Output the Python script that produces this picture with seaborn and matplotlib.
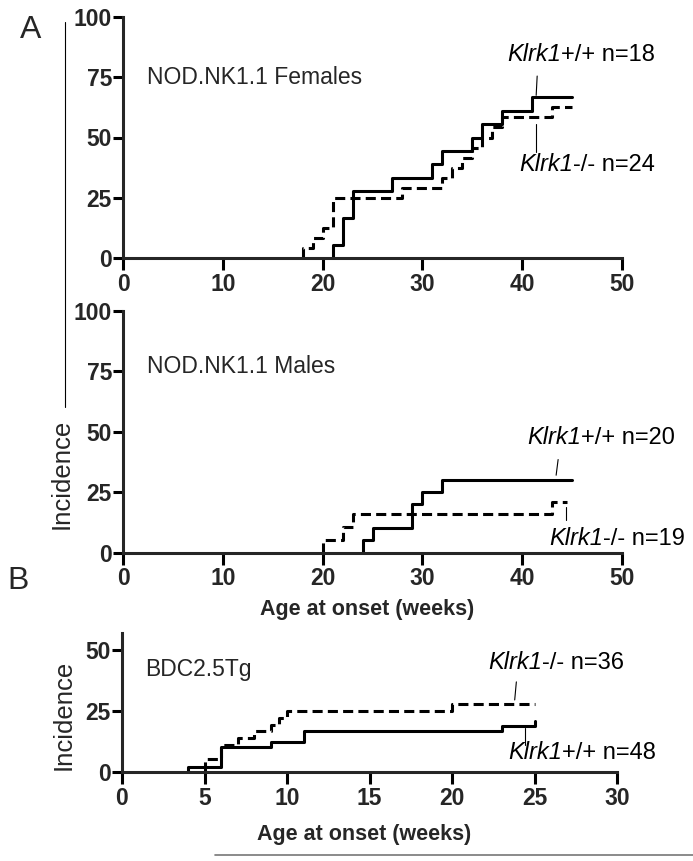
import matplotlib
matplotlib.use("Agg")
import matplotlib.pyplot as plt
import seaborn as sns
import pandas as pd
from matplotlib.offsetbox import TextArea, HPacker, AnnotationBbox
from matplotlib.lines import Line2D

# ---------------- data ----------------
fem_wt_weeks = [21, 22, 23, 27, 31, 32, 35, 36, 38, 41]
fem_wt_inc = [5.6, 16.7, 27.8, 33.3, 38.9, 44.4, 50.0, 55.6, 61.1, 66.7]
fem_wt_end = 45
fem_ko_weeks = [18, 19, 20, 21, 28, 32, 33, 34, 35, 36, 37, 38, 43]
fem_ko_inc = [4.2, 8.3, 12.5, 25.0, 29.2, 33.3, 37.5, 41.7, 45.8, 50.0, 54.2, 58.3, 62.5]
fem_ko_end = 45

male_wt_weeks = [24, 25, 29, 30, 32]
male_wt_inc = [5.0, 10.0, 20.0, 25.0, 30.0]
male_wt_end = 45
male_ko_weeks = [20, 22, 23, 43]
male_ko_inc = [5.3, 10.5, 15.8, 21.1]
male_ko_end = 44.5

bdc_wt_weeks = [4, 6, 9, 11, 23, 25]
bdc_wt_inc = [2.1, 10.4, 12.5, 16.7, 18.8, 20.8]
bdc_wt_end = 25
bdc_ko_weeks = [5, 6, 7, 8, 9, 9.5, 10, 20]
bdc_ko_inc = [5.6, 11.1, 13.9, 16.7, 19.4, 22.2, 25.0, 27.8]
bdc_ko_end = 25

panel_titles = ["NOD.NK1.1 Females", "NOD.NK1.1 Males", "BDC2.5Tg"]
xlabel = "Age at onset (weeks)"
ylabel = "Incidence"
xticks_A = [0, 10, 20, 30, 40, 50]
yticks_A = [0, 25, 50, 75, 100]
xticks_B = [0, 5, 10, 15, 20, 25, 30]
yticks_B = [0, 25, 50]

# ---------------- style ----------------
sns.set_style("ticks")
plt.rcParams["font.family"] = ["Liberation Sans", "DejaVu Sans"]

W, H = 693, 861
fig = plt.figure(figsize=(W / 100, H / 100), dpi=100)

FS = 16.5


def add_ax(left, right, top, bottom):
    return fig.add_axes([left / W, 1 - bottom / H, (right - left) / W, (bottom - top) / H])


def step_frame(weeks, inc, end, geno):
    x = [weeks[0]] + list(weeks) + [end]
    y = [0] + list(inc) + [inc[-1]]
    return pd.DataFrame({"week": x, "inc": y, "geno": geno})


LW = 2.2
DASH = (3.3, 1.7)


def draw(ax, wt, ko, xlim, ylim, xt, yt):
    df = pd.concat([step_frame(*wt, "wt"), step_frame(*ko, "ko")], ignore_index=True)
    sns.lineplot(data=df, x="week", y="inc", style="geno", units="geno",
                 dashes={"wt": "", "ko": DASH}, color="black", lw=LW,
                 estimator=None, sort=False, drawstyle="steps-post",
                 legend=False, ax=ax, clip_on=False)
    ax.set_xlim(*xlim)
    ax.set_ylim(*ylim)
    ax.set_xticks(xt)
    ax.set_yticks(yt)
    ax.set_xlabel("")
    ax.set_ylabel("")
    for s in ["top", "right"]:
        ax.spines[s].set_visible(False)
    for s in ["left", "bottom"]:
        ax.spines[s].set_linewidth(LW)
    ax.tick_params(axis="x", width=LW, length=8.5, pad=2, labelsize=FS, color="black")
    ax.tick_params(axis="y", width=LW, length=7, pad=1, labelsize=FS, color="black")
    for lab in ax.get_xticklabels() + ax.get_yticklabels():
        lab.set_fontweight("bold")
    ax.patch.set_alpha(0)


def label(ax, x, y, gene, rest, ha_box=(0, 0.5)):
    t1 = TextArea(gene, textprops=dict(style="italic", fontsize=FS + 0.5, color="black"))
    t2 = TextArea(rest, textprops=dict(fontsize=FS + 0.5, color="black"))
    box = HPacker(children=[t1, t2], pad=0, sep=0, align="baseline")
    ab = AnnotationBbox(box, (x, y), xycoords="data", frameon=False,
                        box_alignment=ha_box, pad=0, annotation_clip=False)
    ax.add_artist(ab)


def leader(ax, x0, y0, x1, y1):
    ax.add_line(Line2D([x0, x1], [y0, y1], color="black", lw=0.8, clip_on=False))


# ---------------- panel A top ----------------
ax1 = add_ax(123, 622, 17, 258)
draw(ax1, (fem_wt_weeks, fem_wt_inc, fem_wt_end), (fem_ko_weeks, fem_ko_inc, fem_ko_end),
     (0, 50), (0, 100), xticks_A, yticks_A)
ax1.text(2.4, 75, panel_titles[0], fontsize=FS, va="center", ha="left")
label(ax1, 38.5, 84.5, "Klrk1", "+/+ n=18")
leader(ax1, 41.5, 75.5, 41.4, 67.5)
label(ax1, 39.7, 39, "Klrk1", "-/- n=24")
leader(ax1, 41.4, 55.5, 41.4, 44)

# ---------------- panel A bottom ----------------
ax2 = add_ax(123, 622, 311, 552.5)
draw(ax2, (male_wt_weeks, male_wt_inc, male_wt_end), (male_ko_weeks, male_ko_inc, male_ko_end),
     (0, 50), (0, 100), xticks_A, yticks_A)
ax2.text(2.4, 77, panel_titles[1], fontsize=FS, va="center", ha="left")
label(ax2, 40.5, 47.5, "Klrk1", "+/+ n=20")
leader(ax2, 43.6, 38.5, 43.4, 32)
label(ax2, 42.7, 6, "Klrk1", "-/- n=19")
leader(ax2, 44.4, 19, 44.4, 13.5)
ax2.text(0.49, -0.235, xlabel, transform=ax2.transAxes, ha="center", va="center",
         fontsize=15.5, fontweight="bold")

# ---------------- panel B ----------------
ax3 = add_ax(122, 617, 633, 772.3)
draw(ax3, (bdc_wt_weeks, bdc_wt_inc, bdc_wt_end), (bdc_ko_weeks, bdc_ko_inc, bdc_ko_end),
     (0, 30), (0, 57), xticks_B, yticks_B)
ax3.text(1.4, 42, panel_titles[2], fontsize=FS, va="center", ha="left")
label(ax3, 22.2, 44.8, "Klrk1", "-/- n=36")
leader(ax3, 23.9, 37, 23.8, 29.6)
label(ax3, 23.4, 7.9, "Klrk1", "+/+ n=48")
leader(ax3, 24.4, 18.1, 24.4, 11.2)
ax3.text(0.49, -0.45, xlabel, transform=ax3.transAxes, ha="center", va="center",
         fontsize=15.5, fontweight="bold")

# ---------------- figure-level annotations ----------------
fig.text(31 / W, 1 - 30 / H, "A", fontsize=23, ha="center", va="center")
fig.text(18 / W, 1 - 581 / H, "B", fontsize=23, ha="center", va="center")
fig.text(62 / W, 1 - 474 / H, ylabel, fontsize=18.5, rotation=90, ha="center", va="center")
fig.add_artist(Line2D([65 / W, 65 / W], [1 - 22 / H, 1 - 407 / H], color="black", lw=0.8))
fig.text(64 / W, 1 - 715 / H, ylabel, fontsize=18.5, rotation=90, ha="center", va="center")
fig.add_artist(Line2D([215 / W, 1.0], [1 - 855 / H, 1 - 855 / H], color="#777777", lw=1.2))

fig.savefig("out.png", dpi=100)
